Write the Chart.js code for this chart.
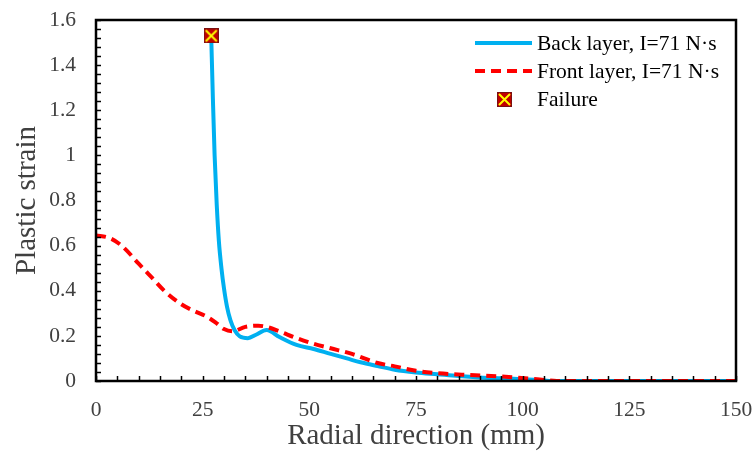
<!DOCTYPE html>
<html>
<head>
<meta charset="utf-8">
<script src="https://cdn.jsdelivr.net/npm/chart.js@4.4.1/dist/chart.umd.min.js"></script>
<style>
  body { margin: 0; background: #fff; }
</style>
</head>
<body>
<canvas id="myChart" width="755" height="458"></canvas>
<script>
// data
const backX = [27, 27.4, 27.8, 28.3, 28.8, 29.4, 30, 30.7, 31.5, 32.5, 33.7, 35.6, 37.5, 40, 43, 47, 51, 55, 58.8, 62, 66, 70, 75, 80, 85, 90, 95, 100, 104, 107, 110, 120, 130, 140, 150];
const backY = [1.53, 1.25, 1.0, 0.78, 0.62, 0.5, 0.41, 0.33, 0.27, 0.225, 0.198, 0.19, 0.205, 0.226, 0.195, 0.16, 0.142, 0.12, 0.10, 0.083, 0.066, 0.05, 0.038, 0.03, 0.022, 0.016, 0.012, 0.008, 0.004, 0, 0, 0, 0, 0, 0];
const frontX = [0, 3, 6, 10, 13, 16, 20, 23, 26, 28, 30, 32, 35, 38, 40, 43, 47, 51, 55, 60, 66, 70, 75, 80, 87, 95, 102, 105, 108, 115, 125, 135, 150];
const frontY = [0.645, 0.635, 0.6, 0.52, 0.46, 0.40, 0.34, 0.31, 0.285, 0.26, 0.23, 0.22, 0.24, 0.245, 0.24, 0.22, 0.19, 0.165, 0.145, 0.12, 0.08, 0.065, 0.045, 0.035, 0.027, 0.02, 0.01, 0.005, 0, 0, 0, 0, 0];
const failureX = [27];
const failureY = [1.53];
const labels = ['Back layer, I=71 N\u00b7s', 'Front layer, I=71 N\u00b7s', 'Failure'];
const xTicks = [0, 25, 50, 75, 100, 125, 150];
const yTicks = [0, 0.2, 0.4, 0.6, 0.8, 1, 1.2, 1.4, 1.6];

const serif = '"Liberation Serif", "Times New Roman", serif';
const blue = '#00B0F0';
const red = '#FF0000';

function pts(xs, ys) {
    return xs.map((x, i) => ({x: x, y: ys[i]}));
}

// failure marker: red square with yellow cross
const marker = document.createElement('canvas');
marker.width = 15; marker.height = 15;
(function () {
    const m = marker.getContext('2d');
    m.fillStyle = '#C00000';
    m.fillRect(0, 0, 15, 15);
    m.strokeStyle = '#7a1010';
    m.lineWidth = 1;
    m.strokeRect(0.5, 0.5, 14, 14);
    m.strokeStyle = '#FFFF00';
    m.lineWidth = 2;
    m.beginPath();
    m.moveTo(2, 2); m.lineTo(13, 13);
    m.moveTo(13, 2); m.lineTo(2, 13);
    m.stroke();
})();

// frame, inward ticks and legend
const decor = {
    id: 'decor',
    afterDatasetsDraw(chart) {
        const c = chart.ctx, a = chart.chartArea;
        const xs = chart.scales.x, ys = chart.scales.y;
        c.save();
        c.strokeStyle = '#000';
        c.lineWidth = 1.5;
        for (let v = 0; v <= 150; v += 5) {
            const p = Math.round(xs.getPixelForValue(v)) + 0.5;
            c.beginPath(); c.moveTo(p, a.bottom); c.lineTo(p, a.bottom - 5); c.stroke();
        }
        for (let k = 0; k <= 40; k++) {
            const p = Math.round(ys.getPixelForValue(k * 0.04)) + 0.5;
            c.beginPath(); c.moveTo(a.left, p); c.lineTo(a.left + 5, p); c.stroke();
        }
        c.lineWidth = 2.5;
        c.strokeRect(a.left, a.top, a.right - a.left, a.bottom - a.top);

        // legend
        const lx = 475, ly = 43, gap = 28;
        c.font = '21.5px ' + serif;
        c.fillStyle = '#000';
        c.textBaseline = 'middle';
        c.lineWidth = 4;
        c.strokeStyle = blue;
        c.beginPath(); c.moveTo(lx, ly); c.lineTo(lx + 57, ly); c.stroke();
        c.strokeStyle = red;
        c.setLineDash([10, 6]);
        c.beginPath(); c.moveTo(lx, ly + gap); c.lineTo(lx + 57, ly + gap); c.stroke();
        c.setLineDash([]);
        c.drawImage(marker, lx + 22, ly + 2 * gap - 7);
        labels.forEach((t, i) => c.fillText(t, 537, ly + i * gap + 1));
        c.restore();
    }
};

const ctx = document.getElementById('myChart').getContext('2d');
const config = {
    type: 'line',
    data: {
        datasets: [{
            label: labels[0],
            data: pts(backX, backY),
            borderColor: blue,
            borderWidth: 4,
            pointRadius: 0,
            cubicInterpolationMode: 'monotone',
            order: 2
        }, {
            label: labels[1],
            data: pts(frontX, frontY),
            borderColor: red,
            borderWidth: 4,
            borderDash: [10, 6],
            pointRadius: 0,
            cubicInterpolationMode: 'monotone',
            order: 1
        }, {
            label: labels[2],
            data: pts(failureX, failureY),
            showLine: false,
            pointStyle: marker,
            pointRadius: 7,
            order: 0
        }]
    },
    options: {
        responsive: false,
        animation: false,
        layout: { padding: { top: 20, right: 19, left: 0, bottom: 0 } },
        scales: {
            x: {
                type: 'linear',
                min: 0, max: 150,
                afterBuildTicks: s => { s.ticks = xTicks.map(v => ({value: v})); },
                afterFit: s => { s.height = 77; s.paddingLeft = 0; s.paddingRight = 0; },
                grid: { display: false },
                border: { display: false },
                ticks: { color: '#404040', font: { family: serif, size: 21.5 }, padding: 8 },
                title: { display: true, text: 'Radial direction (mm)', color: '#404040', font: { family: serif, size: 29 }, padding: { top: 0 } }
            },
            y: {
                type: 'linear',
                min: 0, max: 1.6,
                afterBuildTicks: s => { s.ticks = yTicks.map(v => ({value: v})); },
                afterFit: s => { s.width = 96; s.paddingTop = 0; s.paddingBottom = 0; },
                grid: { display: false },
                border: { display: false },
                ticks: { color: '#404040', font: { family: serif, size: 21.5 }, padding: 12,
                    callback: v => String(Math.round(v * 10) / 10) },
                title: { display: true, text: 'Plastic strain', color: '#404040', font: { family: serif, size: 29 }, padding: { top: 10, bottom: 0 } }
            }
        },
        plugins: {
            legend: { display: false },
            tooltip: { enabled: false }
        }
    },
    plugins: [decor]
};

const myChart = new Chart(ctx, config);
</script>
</body>
</html>
